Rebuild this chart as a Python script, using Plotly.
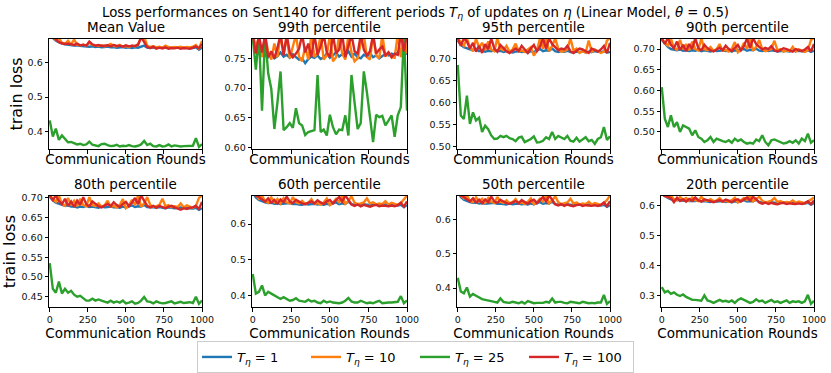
import plotly.graph_objects as go
from plotly.subplots import make_subplots

# communication rounds (x)
rounds = [0, 20, 40, 60, 80, 100, 120, 140, 160, 180, 200, 220, 240, 260, 280, 300, 320, 340, 360, 380,
          400, 420, 440, 460, 480, 500, 520, 540, 560, 580, 600, 620, 640, 660, 680, 700, 720, 740, 760, 780,
          800, 820, 840, 860, 880, 900, 920, 940, 960, 980, 1000]

# Mean Value
mean_t1 = [0.690, 0.672, 0.664, 0.659, 0.656, 0.654, 0.652, 0.651, 0.650, 0.650, 0.649, 0.648, 0.649, 0.647, 0.648, 0.646, 0.647, 0.645, 0.646, 0.647,
           0.645, 0.646, 0.644, 0.645, 0.646, 0.644, 0.645, 0.643, 0.645, 0.644, 0.646, 0.650, 0.644, 0.643, 0.645, 0.644, 0.643, 0.644, 0.645, 0.643,
           0.644, 0.643, 0.644, 0.645, 0.643, 0.644, 0.642, 0.643, 0.645, 0.638, 0.645]
mean_t10 = [0.695, 0.676, 0.666, 0.672, 0.658, 0.655, 0.664, 0.654, 0.668, 0.652, 0.651, 0.653, 0.650, 0.659, 0.652, 0.650, 0.649, 0.651, 0.648, 0.650,
            0.655, 0.649, 0.648, 0.652, 0.647, 0.649, 0.646, 0.650, 0.648, 0.655, 0.672, 0.676, 0.650, 0.646, 0.648, 0.645, 0.647, 0.644, 0.650, 0.646,
            0.644, 0.646, 0.645, 0.647, 0.644, 0.646, 0.645, 0.647, 0.652, 0.641, 0.664]
mean_t25 = [0.432, 0.385, 0.408, 0.375, 0.388, 0.378, 0.368, 0.369, 0.366, 0.362, 0.364, 0.360, 0.362, 0.370, 0.361, 0.358, 0.357, 0.363, 0.364, 0.360,
            0.357, 0.358, 0.361, 0.356, 0.358, 0.357, 0.360, 0.357, 0.356, 0.358, 0.362, 0.372, 0.360, 0.364, 0.357, 0.356, 0.360, 0.356, 0.357, 0.362,
            0.356, 0.359, 0.357, 0.356, 0.357, 0.357, 0.357, 0.358, 0.380, 0.355, 0.363]
mean_t100 = [0.698, 0.680, 0.668, 0.660, 0.657, 0.655, 0.656, 0.653, 0.652, 0.656, 0.651, 0.653, 0.650, 0.662, 0.654, 0.650, 0.652, 0.649, 0.650, 0.651,
             0.648, 0.652, 0.649, 0.650, 0.647, 0.651, 0.648, 0.650, 0.649, 0.652, 0.675, 0.660, 0.646, 0.643, 0.647, 0.641, 0.644, 0.642, 0.645, 0.641,
             0.643, 0.642, 0.644, 0.641, 0.643, 0.642, 0.641, 0.644, 0.648, 0.642, 0.655]

# 99th percentile
p99_t1 = [0.780, 0.765, 0.758, 0.762, 0.755, 0.752, 0.757, 0.750, 0.754, 0.760, 0.753, 0.756, 0.751, 0.757, 0.752, 0.748, 0.750, 0.742, 0.749, 0.753,
          0.751, 0.755, 0.749, 0.752, 0.758, 0.751, 0.755, 0.760, 0.753, 0.757, 0.755, 0.762, 0.753, 0.758, 0.752, 0.750, 0.756, 0.753, 0.759, 0.752,
          0.755, 0.750, 0.754, 0.757, 0.755, 0.758, 0.756, 0.760, 0.757, 0.755, 0.759]
p99_t10 = [0.790, 0.770, 0.785, 0.752, 0.790, 0.760, 0.748, 0.775, 0.752, 0.790, 0.758, 0.785, 0.750, 0.772, 0.790, 0.753, 0.745, 0.770, 0.748, 0.790,
           0.752, 0.760, 0.790, 0.748, 0.755, 0.790, 0.745, 0.752, 0.790, 0.758, 0.748, 0.790, 0.760, 0.745, 0.750, 0.775, 0.790, 0.752, 0.748, 0.790,
           0.755, 0.750, 0.790, 0.753, 0.760, 0.752, 0.751, 0.790, 0.752, 0.790, 0.758]
p99_t25 = [0.785, 0.731, 0.790, 0.662, 0.790, 0.725, 0.699, 0.631, 0.676, 0.728, 0.629, 0.634, 0.641, 0.633, 0.666, 0.641, 0.637, 0.621, 0.626, 0.627,
           0.629, 0.722, 0.626, 0.630, 0.620, 0.655, 0.634, 0.622, 0.630, 0.629, 0.654, 0.620, 0.722, 0.676, 0.631, 0.641, 0.728, 0.693, 0.654, 0.609,
           0.655, 0.651, 0.653, 0.637, 0.645, 0.654, 0.618, 0.654, 0.668, 0.790, 0.662]
p99_t100 = [0.790, 0.758, 0.790, 0.760, 0.790, 0.752, 0.762, 0.750, 0.768, 0.790, 0.755, 0.790, 0.760, 0.752, 0.758, 0.766, 0.790, 0.760, 0.775, 0.752,
            0.790, 0.756, 0.770, 0.790, 0.760, 0.752, 0.790, 0.758, 0.765, 0.790, 0.752, 0.770, 0.790, 0.762, 0.758, 0.790, 0.765, 0.755, 0.762, 0.790,
            0.758, 0.765, 0.770, 0.755, 0.760, 0.752, 0.758, 0.756, 0.790, 0.762, 0.790]

# 95th percentile
p95_t1 = [0.740, 0.730, 0.725, 0.722, 0.720, 0.718, 0.721, 0.716, 0.718, 0.715, 0.717, 0.716, 0.719, 0.716, 0.717, 0.714, 0.716, 0.715, 0.713, 0.715,
          0.716, 0.714, 0.715, 0.713, 0.716, 0.714, 0.718, 0.721, 0.716, 0.718, 0.717, 0.722, 0.716, 0.714, 0.716, 0.715, 0.717, 0.714, 0.713, 0.715,
          0.714, 0.716, 0.713, 0.715, 0.714, 0.716, 0.715, 0.714, 0.716, 0.713, 0.714]
p95_t10 = [0.745, 0.735, 0.728, 0.745, 0.725, 0.716, 0.745, 0.724, 0.735, 0.718, 0.738, 0.720, 0.716, 0.745, 0.722, 0.718, 0.728, 0.715, 0.720, 0.733,
           0.716, 0.718, 0.714, 0.720, 0.725, 0.706, 0.718, 0.745, 0.722, 0.745, 0.716, 0.728, 0.745, 0.722, 0.715, 0.716, 0.720, 0.745, 0.718, 0.722,
           0.712, 0.716, 0.713, 0.740, 0.715, 0.720, 0.716, 0.712, 0.715, 0.740, 0.745]
p95_t25 = [0.685, 0.571, 0.563, 0.616, 0.552, 0.578, 0.560, 0.566, 0.534, 0.548, 0.540, 0.526, 0.518, 0.519, 0.525, 0.522, 0.525, 0.520, 0.518, 0.513,
           0.521, 0.523, 0.511, 0.515, 0.518, 0.524, 0.510, 0.511, 0.514, 0.522, 0.518, 0.534, 0.518, 0.525, 0.521, 0.518, 0.525, 0.514, 0.512, 0.521,
           0.512, 0.518, 0.522, 0.513, 0.516, 0.507, 0.518, 0.522, 0.545, 0.516, 0.524]
p95_t100 = [0.745, 0.728, 0.745, 0.738, 0.722, 0.735, 0.715, 0.728, 0.712, 0.732, 0.720, 0.745, 0.722, 0.715, 0.730, 0.722, 0.716, 0.712, 0.718, 0.722,
            0.716, 0.728, 0.720, 0.712, 0.722, 0.730, 0.716, 0.726, 0.745, 0.722, 0.745, 0.732, 0.725, 0.718, 0.722, 0.720, 0.728, 0.716, 0.712, 0.718,
            0.722, 0.720, 0.716, 0.712, 0.722, 0.718, 0.715, 0.720, 0.728, 0.712, 0.735]

# 90th percentile
p90_t1 = [0.722, 0.712, 0.705, 0.700, 0.698, 0.697, 0.699, 0.696, 0.697, 0.695, 0.697, 0.696, 0.698, 0.695, 0.697, 0.696, 0.694, 0.697, 0.695, 0.696,
          0.697, 0.695, 0.696, 0.694, 0.697, 0.696, 0.699, 0.700, 0.696, 0.698, 0.697, 0.701, 0.696, 0.695, 0.697, 0.695, 0.697, 0.696, 0.694, 0.695,
          0.696, 0.695, 0.694, 0.696, 0.695, 0.696, 0.695, 0.694, 0.697, 0.693, 0.696]
p90_t10 = [0.726, 0.715, 0.708, 0.726, 0.702, 0.698, 0.722, 0.700, 0.712, 0.697, 0.718, 0.700, 0.697, 0.726, 0.700, 0.697, 0.705, 0.696, 0.699, 0.712,
           0.696, 0.698, 0.694, 0.700, 0.717, 0.692, 0.699, 0.715, 0.700, 0.726, 0.696, 0.705, 0.722, 0.700, 0.695, 0.697, 0.700, 0.720, 0.697, 0.700,
           0.694, 0.697, 0.695, 0.705, 0.694, 0.699, 0.696, 0.693, 0.697, 0.722, 0.726]
p90_t25 = [0.608, 0.532, 0.512, 0.540, 0.512, 0.524, 0.500, 0.516, 0.512, 0.508, 0.492, 0.504, 0.488, 0.484, 0.476, 0.480, 0.488, 0.476, 0.484, 0.480,
           0.478, 0.476, 0.480, 0.474, 0.484, 0.478, 0.482, 0.476, 0.472, 0.474, 0.472, 0.482, 0.478, 0.492, 0.476, 0.468, 0.480, 0.482, 0.478, 0.476,
           0.472, 0.474, 0.478, 0.474, 0.480, 0.472, 0.484, 0.478, 0.496, 0.474, 0.480]
p90_t100 = [0.726, 0.712, 0.726, 0.710, 0.702, 0.718, 0.698, 0.710, 0.695, 0.712, 0.700, 0.726, 0.702, 0.697, 0.710, 0.702, 0.697, 0.694, 0.699, 0.703,
            0.697, 0.708, 0.700, 0.695, 0.703, 0.710, 0.697, 0.707, 0.726, 0.702, 0.726, 0.712, 0.705, 0.699, 0.703, 0.700, 0.707, 0.697, 0.694, 0.698,
            0.702, 0.700, 0.697, 0.694, 0.700, 0.698, 0.695, 0.699, 0.705, 0.694, 0.712]

# 80th percentile
p80_t1 = [0.703, 0.694, 0.688, 0.685, 0.682, 0.680, 0.681, 0.678, 0.679, 0.676, 0.678, 0.677, 0.680, 0.677, 0.678, 0.676, 0.675, 0.678, 0.676, 0.677,
          0.678, 0.676, 0.677, 0.675, 0.678, 0.676, 0.679, 0.681, 0.677, 0.679, 0.678, 0.682, 0.677, 0.676, 0.677, 0.675, 0.677, 0.676, 0.674, 0.676,
          0.675, 0.674, 0.675, 0.676, 0.674, 0.675, 0.674, 0.673, 0.675, 0.670, 0.674]
p80_t10 = [0.706, 0.697, 0.690, 0.706, 0.684, 0.680, 0.700, 0.682, 0.693, 0.679, 0.698, 0.682, 0.679, 0.702, 0.682, 0.679, 0.686, 0.678, 0.681, 0.693,
           0.678, 0.680, 0.676, 0.682, 0.697, 0.674, 0.681, 0.695, 0.682, 0.706, 0.678, 0.686, 0.702, 0.682, 0.677, 0.679, 0.682, 0.698, 0.679, 0.682,
           0.676, 0.679, 0.677, 0.686, 0.676, 0.681, 0.678, 0.675, 0.680, 0.700, 0.706]
p80_t25 = [0.535, 0.470, 0.460, 0.488, 0.458, 0.470, 0.460, 0.465, 0.455, 0.450, 0.452, 0.445, 0.440, 0.440, 0.445, 0.440, 0.443, 0.440, 0.437, 0.435,
           0.440, 0.435, 0.438, 0.435, 0.440, 0.433, 0.435, 0.438, 0.432, 0.434, 0.440, 0.449, 0.438, 0.437, 0.433, 0.438, 0.435, 0.433, 0.434, 0.436,
           0.438, 0.433, 0.436, 0.437, 0.434, 0.435, 0.436, 0.434, 0.450, 0.432, 0.440]
p80_t100 = [0.706, 0.695, 0.706, 0.692, 0.684, 0.698, 0.680, 0.691, 0.677, 0.693, 0.682, 0.702, 0.684, 0.679, 0.691, 0.684, 0.679, 0.676, 0.681, 0.685,
            0.679, 0.689, 0.682, 0.677, 0.685, 0.690, 0.679, 0.688, 0.700, 0.684, 0.706, 0.692, 0.680, 0.676, 0.680, 0.675, 0.680, 0.677, 0.674, 0.678,
            0.680, 0.676, 0.672, 0.670, 0.674, 0.672, 0.675, 0.676, 0.680, 0.672, 0.690]

# 60th percentile
p60_t1 = [0.690, 0.675, 0.668, 0.664, 0.661, 0.659, 0.660, 0.657, 0.658, 0.656, 0.657, 0.656, 0.659, 0.656, 0.657, 0.655, 0.654, 0.657, 0.655, 0.656,
          0.657, 0.655, 0.656, 0.654, 0.657, 0.655, 0.658, 0.661, 0.656, 0.658, 0.657, 0.663, 0.656, 0.655, 0.656, 0.654, 0.656, 0.655, 0.653, 0.655,
          0.654, 0.653, 0.654, 0.655, 0.653, 0.654, 0.653, 0.652, 0.654, 0.648, 0.653]
p60_t10 = [0.692, 0.680, 0.671, 0.680, 0.664, 0.660, 0.675, 0.662, 0.671, 0.658, 0.673, 0.661, 0.658, 0.676, 0.661, 0.658, 0.665, 0.657, 0.660, 0.670,
           0.657, 0.659, 0.655, 0.661, 0.672, 0.653, 0.660, 0.671, 0.661, 0.680, 0.657, 0.665, 0.678, 0.660, 0.656, 0.658, 0.661, 0.672, 0.658, 0.661,
           0.655, 0.658, 0.656, 0.664, 0.655, 0.660, 0.657, 0.654, 0.659, 0.668, 0.680]
p60_t25 = [0.460, 0.405, 0.410, 0.428, 0.400, 0.410, 0.405, 0.400, 0.395, 0.390, 0.395, 0.390, 0.385, 0.387, 0.392, 0.385, 0.383, 0.382, 0.388, 0.383,
           0.385, 0.380, 0.378, 0.385, 0.380, 0.383, 0.380, 0.378, 0.378, 0.380, 0.385, 0.393, 0.383, 0.380, 0.380, 0.385, 0.382, 0.378, 0.380, 0.378,
           0.382, 0.385, 0.378, 0.380, 0.380, 0.380, 0.382, 0.382, 0.398, 0.378, 0.386]
p60_t100 = [0.692, 0.680, 0.676, 0.670, 0.663, 0.672, 0.660, 0.668, 0.658, 0.669, 0.661, 0.677, 0.663, 0.659, 0.668, 0.663, 0.658, 0.656, 0.660, 0.664,
            0.658, 0.667, 0.661, 0.656, 0.664, 0.668, 0.658, 0.666, 0.676, 0.663, 0.680, 0.668, 0.655, 0.651, 0.655, 0.650, 0.654, 0.651, 0.649, 0.652,
            0.654, 0.650, 0.652, 0.651, 0.650, 0.652, 0.650, 0.653, 0.660, 0.649, 0.664]

# 50th percentile
p50_t1 = [0.682, 0.666, 0.658, 0.654, 0.651, 0.649, 0.650, 0.647, 0.648, 0.646, 0.647, 0.646, 0.649, 0.646, 0.647, 0.645, 0.644, 0.647, 0.645, 0.646,
          0.647, 0.645, 0.646, 0.644, 0.647, 0.645, 0.648, 0.651, 0.646, 0.648, 0.647, 0.652, 0.645, 0.644, 0.645, 0.643, 0.645, 0.644, 0.642, 0.644,
          0.643, 0.642, 0.643, 0.644, 0.642, 0.643, 0.642, 0.641, 0.643, 0.637, 0.642]
p50_t10 = [0.685, 0.670, 0.662, 0.670, 0.655, 0.651, 0.665, 0.653, 0.661, 0.649, 0.663, 0.652, 0.649, 0.666, 0.652, 0.649, 0.656, 0.648, 0.651, 0.660,
           0.648, 0.650, 0.646, 0.652, 0.662, 0.644, 0.651, 0.661, 0.652, 0.670, 0.648, 0.656, 0.668, 0.651, 0.645, 0.647, 0.650, 0.661, 0.647, 0.650,
           0.644, 0.647, 0.645, 0.652, 0.644, 0.648, 0.645, 0.643, 0.648, 0.657, 0.670]
p50_t25 = [0.430, 0.390, 0.385, 0.402, 0.375, 0.383, 0.378, 0.372, 0.368, 0.366, 0.365, 0.362, 0.360, 0.358, 0.370, 0.360, 0.358, 0.357, 0.360, 0.358,
           0.356, 0.360, 0.355, 0.362, 0.358, 0.356, 0.357, 0.357, 0.357, 0.360, 0.358, 0.370, 0.358, 0.360, 0.360, 0.357, 0.356, 0.360, 0.358, 0.357,
           0.356, 0.360, 0.357, 0.356, 0.357, 0.356, 0.358, 0.358, 0.380, 0.354, 0.362]
p50_t100 = [0.685, 0.670, 0.666, 0.660, 0.653, 0.662, 0.650, 0.658, 0.648, 0.659, 0.651, 0.667, 0.653, 0.649, 0.658, 0.653, 0.648, 0.646, 0.650, 0.654,
            0.648, 0.657, 0.651, 0.646, 0.654, 0.658, 0.648, 0.656, 0.666, 0.653, 0.670, 0.658, 0.645, 0.641, 0.645, 0.640, 0.644, 0.641, 0.639, 0.642,
            0.644, 0.640, 0.642, 0.641, 0.640, 0.642, 0.640, 0.643, 0.650, 0.639, 0.654]

# 20th percentile
p20_t1 = [0.640, 0.632, 0.626, 0.622, 0.620, 0.619, 0.620, 0.617, 0.618, 0.616, 0.617, 0.616, 0.618, 0.615, 0.616, 0.614, 0.613, 0.616, 0.614, 0.615,
          0.616, 0.613, 0.614, 0.612, 0.615, 0.613, 0.616, 0.619, 0.614, 0.616, 0.615, 0.620, 0.613, 0.611, 0.612, 0.610, 0.612, 0.611, 0.609, 0.611,
          0.610, 0.609, 0.610, 0.611, 0.609, 0.610, 0.609, 0.608, 0.610, 0.604, 0.609]
p20_t10 = [0.640, 0.634, 0.628, 0.634, 0.622, 0.618, 0.630, 0.620, 0.626, 0.617, 0.628, 0.619, 0.616, 0.630, 0.619, 0.616, 0.622, 0.615, 0.618, 0.626,
           0.615, 0.617, 0.613, 0.619, 0.627, 0.611, 0.618, 0.626, 0.619, 0.634, 0.615, 0.622, 0.630, 0.617, 0.612, 0.614, 0.617, 0.626, 0.613, 0.616,
           0.610, 0.613, 0.611, 0.618, 0.610, 0.614, 0.611, 0.609, 0.614, 0.622, 0.628]
p20_t25 = [0.328, 0.310, 0.315, 0.305, 0.310, 0.302, 0.298, 0.303, 0.295, 0.290, 0.285, 0.285, 0.283, 0.282, 0.300, 0.283, 0.280, 0.275, 0.280, 0.285,
           0.280, 0.282, 0.278, 0.283, 0.275, 0.285, 0.290, 0.285, 0.280, 0.275, 0.278, 0.287, 0.280, 0.283, 0.275, 0.280, 0.285, 0.277, 0.280, 0.275,
           0.280, 0.283, 0.275, 0.280, 0.278, 0.280, 0.275, 0.280, 0.302, 0.272, 0.282]
p20_t100 = [0.640, 0.632, 0.630, 0.626, 0.612, 0.627, 0.616, 0.622, 0.614, 0.623, 0.617, 0.628, 0.618, 0.614, 0.622, 0.618, 0.614, 0.612, 0.616, 0.619,
            0.614, 0.621, 0.617, 0.612, 0.619, 0.622, 0.614, 0.620, 0.628, 0.618, 0.630, 0.622, 0.611, 0.607, 0.611, 0.606, 0.610, 0.607, 0.605, 0.608,
            0.610, 0.606, 0.608, 0.607, 0.606, 0.608, 0.606, 0.609, 0.615, 0.605, 0.618]

panel_titles = ["Mean Value", "99th percentile", "95th percentile", "90th percentile",
                "80th percentile", "60th percentile", "50th percentile", "20th percentile"]
panel_series = [
    (mean_t1, mean_t10, mean_t25, mean_t100),
    (p99_t1, p99_t10, p99_t25, p99_t100),
    (p95_t1, p95_t10, p95_t25, p95_t100),
    (p90_t1, p90_t10, p90_t25, p90_t100),
    (p80_t1, p80_t10, p80_t25, p80_t100),
    (p60_t1, p60_t10, p60_t25, p60_t100),
    (p50_t1, p50_t10, p50_t25, p50_t100),
    (p20_t1, p20_t10, p20_t25, p20_t100),
]
period_labels = ["1", "10", "25", "100"]

# axis settings per panel
y_ranges = [(0.348, 0.670), (0.597, 0.783), (0.495, 0.744), (0.4585, 0.7247),
            (0.423, 0.705), (0.3665, 0.679), (0.344, 0.669), (0.260, 0.633)]
y_dticks = [0.1, 0.05, 0.05, 0.05, 0.05, 0.1, 0.1, 0.1]
y_formats = [".1f", ".2f", ".2f", ".2f", ".2f", ".1f", ".1f", ".1f"]

colors = ["#1f77b4", "#ff7f0e", "#2ca02c", "#d62728"]
FONT = "DejaVu Sans"
W, H = 831, 373

# pixel boxes of the plot areas
col_px = [(49, 202), (252, 407), (457, 610), (661, 814)]
row_px = [(39, 150), (197, 309)]

fig = make_subplots(rows=2, cols=4)

for k, series in enumerate(panel_series):
    assert all(len(s) == len(rounds) for s in series)
    r, c = k // 4 + 1, k % 4 + 1
    for j, ys in enumerate(series):
        fig.add_trace(go.Scatter(
            x=rounds, y=ys, mode="lines",
            line=dict(color=colors[j], width=2.4),
            name="<i>T</i><sub><i>η</i></sub> = " + period_labels[j],
            legendgroup=str(j), showlegend=(k == 0),
        ), row=r, col=c)

for k in range(8):
    r, c = k // 4, k % 4
    x0, x1 = col_px[c]
    t0, t1 = row_px[r]
    xd = [x0 / W, x1 / W]
    yd = [1 - t1 / H, 1 - t0 / H]
    xname = "xaxis" if k == 0 else "xaxis%d" % (k + 1)
    yname = "yaxis" if k == 0 else "yaxis%d" % (k + 1)
    fig.layout[xname].update(
        domain=xd, range=[-5, 1000], tickvals=[0, 250, 500, 750, 1000],
        showticklabels=(r == 1), ticks="outside", ticklen=3.5, tickwidth=0.8, tickcolor="#000",
        showline=True, mirror=True, linecolor="#000", linewidth=0.8, showgrid=False, zeroline=False,
        tickfont=dict(size=9.5, color="#111", family=FONT),
        title=dict(text="Communication Rounds", font=dict(size=13.5, color="#000", family=FONT), standoff=1),
        automargin=False,
    )
    fig.layout[yname].update(
        domain=yd, range=list(y_ranges[k]), dtick=y_dticks[k], tick0=0, tickformat=y_formats[k],
        ticks="outside", ticklen=3.5, tickwidth=0.8, tickcolor="#000",
        showline=True, mirror=True, linecolor="#000", linewidth=0.8, showgrid=False, zeroline=False,
        tickfont=dict(size=9.5, color="#111", family=FONT),
        automargin=False,
    )
    if c == 0:
        fig.layout[yname].update(title=dict(text="train loss", font=dict(size=16, color="#000", family=FONT),
                                            standoff=0 if r == 0 else 5))
    fig.add_annotation(
        text=panel_titles[k], xref="paper", yref="paper",
        x=(xd[0] + xd[1]) / 2, y=yd[1], xanchor="center", yanchor="bottom", yshift=2,
        showarrow=False, font=dict(size=13.5, color="#000", family=FONT),
    )

fig.update_layout(
    width=W, height=H,
    margin=dict(l=0, r=0, t=0, b=0),
    paper_bgcolor="white", plot_bgcolor="white",
    font=dict(family=FONT, color="#000"),
    title=dict(
        text="Loss performances on Sent140 for different periods <i>T</i><sub><i>η</i></sub> of updates on <i>η</i> (Linear Model, <i>θ</i> = 0.5)",
        x=0.5, xanchor="center", y=1 - 12 / H, yanchor="middle",
        font=dict(size=13.3, color="#000", family=FONT),
    ),
    legend=dict(
        orientation="h", x=0.5, xanchor="center", y=1 - 359 / H, yanchor="middle",
        bordercolor="#cccccc", borderwidth=1, bgcolor="white",
        font=dict(size=13, color="#000", family=FONT),
        entrywidth=64, entrywidthmode="pixels", itemwidth=30,
    ),
    showlegend=True,
)

# the page body has a default 8px margin; drop it so the figure sits at the corner
fig.write_html("out.html", config={"displayModeBar": False},
               post_script="document.body.style.margin='0';")
